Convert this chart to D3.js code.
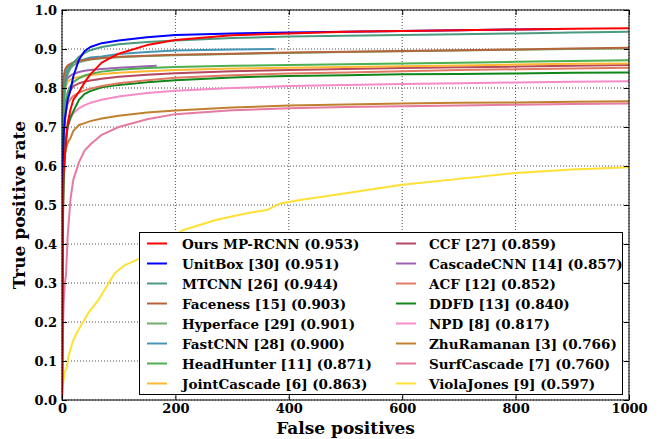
<!doctype html>
<html lang="en">
<head>
  <meta charset="utf-8">
  <title>FDDB discrete ROC</title>
  <style>
    body { margin: 0; background: #fff; }
    svg { display: block; font-family: "DejaVu Serif", serif; font-weight: bold; }
    .grid line { stroke: #000; stroke-opacity: .7; stroke-dasharray: 1,2; stroke-width: 1; }
    .curve { fill: none; stroke-width: 2; stroke-linejoin: round; }
  </style>
</head>
<body>
  <script src="https://cdn.jsdelivr.net/npm/d3@7/dist/d3.min.js"></script>
  <script>

// legend labels, scores and colours (legend order)
var names = ["Ours MP-RCNN", "UnitBox [30]", "MTCNN [26]", "Faceness [15]", "Hyperface [29]",
  "FastCNN [28]", "HeadHunter [11]", "JointCascade [6]", "CCF [27]", "CascadeCNN [14]",
  "ACF [12]", "DDFD [13]", "NPD [8]", "ZhuRamanan [3]", "SurfCascade [7]", "ViolaJones [9]"];
var scores = ["0.953", "0.951", "0.944", "0.903", "0.901", "0.900", "0.871", "0.863",
  "0.859", "0.857", "0.852", "0.840", "0.817", "0.766", "0.760", "0.597"];
var colors = ["#ff0000", "#0000ff", "#4c9a7e", "#b5643c", "#70ae6e", "#4795b5", "#4caf50", "#ffb732",
  "#b5475e", "#9a62b0", "#de7a64", "#11871a", "#f48cc8", "#c0802f", "#e67aa0", "#ffe033"];

// false positive grids
var fpGrid = [0, 1, 2, 3, 5, 7, 10, 15, 20, 30, 40, 50, 70, 100, 150, 200, 300, 400, 500, 600, 700, 800, 900, 1000];
var unitboxFP = [0, 1, 2, 3, 5, 7, 10, 15, 20, 30, 40, 50, 70, 100, 150, 200, 300, 400, 500, 600, 700, 800, 880];
var fastcnnFP = [0, 1, 2, 3, 5, 7, 10, 15, 20, 30, 40, 50, 70, 100, 150, 200, 300, 375];
var cascadecnnFP = [0, 1, 2, 3, 5, 7, 10, 15, 20, 30, 40, 50, 70, 100, 150, 167];
var violaFP = [0, 2, 5, 8, 11, 15, 20, 29, 46, 64, 82, 93, 111, 138, 175, 214, 273, 326, 361, 385, 420, 500, 600, 700, 800, 900, 1000];

// true positive rates
var oursTPR = [0, .45, .55, .59, .625, .66, .71, .745, .77, .79, .815, .835, .865, .888, .91, .923, .935, .94, .944, .946, .948, .95, .952, .953];
var unitboxTPR = [0, .5, .62, .68, .72, .74, .77, .795, .83, .873, .895, .905, .915, .922, .93, .936, .94, .942, .944, .946, .948, .95, .951];
var mtcnnTPR = [0, .6, .72, .77, .8, .82, .84, .855, .865, .88, .89, .897, .905, .912, .918, .922, .928, .932, .934, .936, .938, .94, .942, .944];
var facenessTPR = [0, .7, .8, .83, .845, .852, .858, .862, .866, .87, .872, .874, .877, .88, .883, .885, .888, .891, .893, .895, .897, .899, .901, .903];
var hyperfaceTPR = [0, .6, .7, .75, .79, .815, .835, .85, .858, .866, .87, .873, .876, .879, .882, .884, .887, .89, .892, .894, .896, .898, .9, .901];
var fastcnnTPR = [0, .6, .72, .78, .82, .84, .852, .86, .865, .87, .874, .878, .881, .887, .892, .896, .899, .9];
var headhunterTPR = [0, .5, .62, .68, .74, .77, .79, .805, .815, .825, .832, .836, .842, .847, .851, .854, .857, .859, .861, .863, .865, .867, .869, .871];
var jointTPR = [0, .55, .68, .74, .79, .805, .815, .822, .825, .828, .831, .833, .836, .839, .843, .846, .85, .852, .854, .856, .858, .86, .862, .863];
var ccfTPR = [0, .5, .62, .68, .73, .76, .78, .795, .805, .812, .816, .819, .824, .829, .834, .838, .843, .846, .849, .851, .853, .855, .857, .859];
var cascadecnnTPR = [0, .6, .72, .77, .8, .815, .825, .832, .836, .841, .844, .846, .849, .852, .856, .857];
var acfTPR = [0, .45, .58, .65, .71, .74, .76, .772, .78, .788, .794, .798, .805, .812, .82, .826, .833, .837, .84, .843, .846, .848, .85, .852];
var ddfdTPR = [0, .4, .5, .56, .63, .67, .7, .725, .74, .77, .785, .792, .802, .808, .815, .82, .827, .831, .833, .835, .836, .837, .839, .84];
var npdTPR = [0, .35, .48, .56, .63, .67, .7, .722, .735, .748, .756, .762, .77, .778, .787, .793, .8, .805, .808, .81, .812, .814, .816, .817];
var zhuTPR = [0, .35, .5, .57, .625, .645, .66, .672, .69, .705, .71, .715, .722, .729, .737, .742, .75, .755, .758, .76, .762, .763, .765, .766];
var surfTPR = [0, .1, .2, .25, .3, .32, .42, .515, .565, .61, .64, .655, .68, .7, .72, .733, .743, .748, .751, .753, .755, .757, .759, .76];
var violaTPR = [0, .043, .073, .08, .11, .13, .154, .18, .222, .256, .299, .325, .346, .363, .4, .436, .462, .479, .487, .504, .513, .53, .552, .567, .582, .591, .597];

var xTicks = [0, 200, 400, 600, 800, 1000];
var yTicks = [0, .1, .2, .3, .4, .5, .6, .7, .8, .9, 1.0];

var curves = [
  [fpGrid, oursTPR], [unitboxFP, unitboxTPR], [fpGrid, mtcnnTPR], [fpGrid, facenessTPR],
  [fpGrid, hyperfaceTPR], [fastcnnFP, fastcnnTPR], [fpGrid, headhunterTPR], [fpGrid, jointTPR],
  [fpGrid, ccfTPR], [cascadecnnFP, cascadecnnTPR], [fpGrid, acfTPR], [fpGrid, ddfdTPR],
  [fpGrid, npdTPR], [fpGrid, zhuTPR], [fpGrid, surfTPR], [violaFP, violaTPR]
];

var W = 672, H = 439;
var m = { left: 62, top: 10, right: 43, bottom: 39 };
var pw = W - m.left - m.right, ph = H - m.top - m.bottom;

var svg = d3.select("body").append("svg").attr("width", W).attr("height", H);

var x = d3.scaleLinear().domain([0, 1000]).range([0, pw]);
var y = d3.scaleLinear().domain([0, 1]).range([ph, 0]);

var g = svg.append("g").attr("transform", "translate(" + m.left + "," + m.top + ")");

g.append("clipPath").attr("id", "clip")
  .append("rect").attr("width", pw).attr("height", ph);

// dotted grid
var grid = g.append("g").attr("class", "grid");
grid.selectAll(".gx").data(xTicks).enter().append("line")
  .attr("x1", d => x(d)).attr("x2", d => x(d)).attr("y1", 0).attr("y2", ph);
grid.selectAll(".gy").data(yTicks).enter().append("line")
  .attr("x1", 0).attr("x2", pw).attr("y1", d => y(d)).attr("y2", d => y(d));

// curves, drawn last-to-first so ours ends on top
var line = d3.line().x(d => x(d[0])).y(d => y(d[1]));
var order = d3.range(curves.length).reverse();
g.append("g").attr("clip-path", "url(#clip)")
  .selectAll("path").data(order).enter().append("path")
  .attr("class", "curve")
  .attr("stroke", i => colors[i])
  .attr("d", i => line(d3.zip(curves[i][0], curves[i][1])));

// axes with inward ticks on all sides
var fmtY = d3.format(".1f");
g.append("g").attr("transform", "translate(0," + ph + ")")
  .call(d3.axisBottom(x).tickValues(xTicks).tickFormat(d3.format("d"))
    .tickSizeInner(-5).tickSizeOuter(0).tickPadding(4));
g.append("g")
  .call(d3.axisLeft(y).tickValues(yTicks).tickFormat(fmtY).tickSizeInner(-5).tickSizeOuter(0).tickPadding(5));
g.append("g")
  .call(d3.axisTop(x).tickValues(xTicks).tickSizeInner(-5).tickSizeOuter(0).tickFormat(""));
g.append("g").attr("transform", "translate(" + pw + ",0)")
  .call(d3.axisRight(y).tickValues(yTicks).tickSizeInner(-5).tickSizeOuter(0).tickFormat(""));

g.selectAll(".domain").remove();
g.selectAll(".tick text").attr("font-family", "DejaVu Serif").attr("font-weight", "bold")
  .attr("font-size", 13).attr("fill", "#000");
g.selectAll(".tick line").attr("stroke", "#000");

g.append("rect").attr("width", pw).attr("height", ph)
  .attr("fill", "none").attr("stroke", "#000").attr("stroke-width", 1);

// axis titles
svg.append("text")
  .attr("x", m.left + pw / 2).attr("y", 434)
  .attr("text-anchor", "middle").attr("font-size", 17)
  .text("False positives");
svg.append("text")
  .attr("transform", "translate(25," + (m.top + ph / 2) + ") rotate(-90)")
  .attr("text-anchor", "middle").attr("font-size", 17)
  .text("True positive rate");

// legend
var lg = svg.append("g");
lg.append("rect").attr("x", 139.5).attr("y", 232.5).attr("width", 483).attr("height", 162)
  .attr("fill", "#fff").attr("stroke", "#000").attr("stroke-width", 1);

var items = lg.selectAll(".item").data(d3.range(names.length)).enter().append("g")
  .attr("transform", i => "translate(" + (i < 8 ? 147 : 396) + "," + (243.5 + (i % 8) * 20) + ")");
items.append("line").attr("x1", 0).attr("x2", 20).attr("y1", 0).attr("y2", 0)
  .attr("stroke", i => colors[i]).attr("stroke-width", 2);
items.append("text").attr("x", i => i < 8 ? 35 : 33).attr("y", 5)
  .attr("font-size", 13.5)
  .text(i => names[i] + " (" + scores[i] + ")");

  </script>
</body>
</html>
